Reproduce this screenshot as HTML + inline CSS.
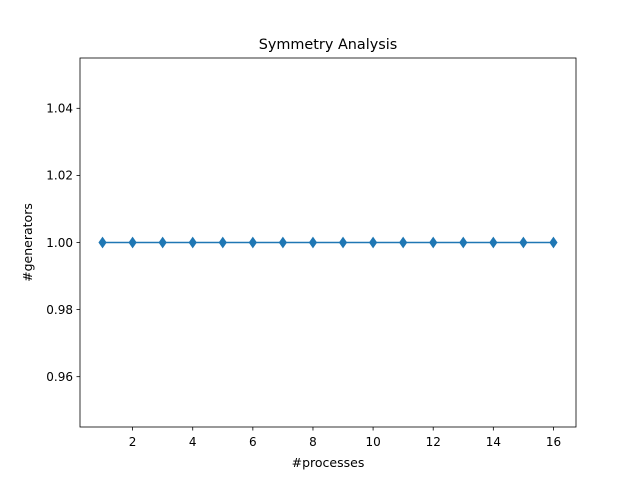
<!DOCTYPE html>
<html><head><meta charset="utf-8"><style>body{margin:0;background:#fff}svg{display:block}text{font-family:"DejaVu Sans","Liberation Sans",sans-serif;fill:#000}</style></head>
<body>
<svg id="chart" width="640" height="480" xmlns="http://www.w3.org/2000/svg">
<rect width="640" height="480" fill="#fff"/>
<text x="328" y="49" font-size="14.4" text-anchor="middle">Symmetry Analysis</text>
<text x="328" y="467" font-size="12.5" text-anchor="middle">#processes</text>
<text x="32" y="242.5" font-size="12.5" text-anchor="middle" transform="rotate(-90 32 242.5)">#generators</text>
<g id="ticks"></g>
<g id="series"></g>
<rect x="80" y="58" width="496" height="369" fill="none" stroke="#000" stroke-width="0.8"/>
</svg>
<script>
const processes=[1,2,3,4,5,6,7,8,9,10,11,12,13,14,15,16];
const generators=[1,1,1,1,1,1,1,1,1,1,1,1,1,1,1,1];
const xTicks=[2,4,6,8,10,12,14,16];
const yTicks=[0.96,0.98,1.00,1.02,1.04];
const yTickLabels=["0.96","0.98","1.00","1.02","1.04"];
const X0=80,X1=576,Y0=58,Y1=427,xmin=0.25,xmax=16.75,ymin=0.945,ymax=1.055;
const sx=v=>X0+(v-xmin)/(xmax-xmin)*(X1-X0);
const sy=v=>Y1-(v-ymin)/(ymax-ymin)*(Y1-Y0);
const NS="http://www.w3.org/2000/svg";
const tg=document.getElementById('ticks'),sg=document.getElementById('series');
function mk(tag,attrs,parent){const e=document.createElementNS(NS,tag);for(const k in attrs)e.setAttribute(k,attrs[k]);parent.appendChild(e);return e;}
xTicks.forEach(t=>{const x=sx(t);
const l=mk('line',{x1:x,x2:x,y1:Y1,y2:Y1+3.5,stroke:'#000','stroke-width':0.8},tg);


const tx=mk('text',{x:x,y:Y1+19,'font-size':12,'text-anchor':'middle'},tg);tx.textContent=t;

});
yTicks.forEach((t,i)=>{const y=sy(t);
const l=mk('line',{x1:X0-3.5,x2:X0,y1:y,y2:y,stroke:'#000','stroke-width':0.8},tg);


const tx=mk('text',{x:X0-7,y:y+4.3,'font-size':12,'text-anchor':'end'},tg);tx.textContent=yTickLabels[i];

});
const pts=processes.map((p,i)=>sx(p)+','+sy(generators[i])).join(' ');
const pl=mk('polyline',{points:pts,fill:'none',stroke:'#1f77b4','stroke-width':1.5},sg);


processes.forEach((p,i)=>{const x=sx(p),y=sy(generators[i]);
const m=mk('polygon',{points:`${x},${y-5} ${x+3.5},${y} ${x},${y+5} ${x-3.5},${y}`,fill:'#1f77b4',stroke:'#1f77b4','stroke-width':1},sg);

});
</script>
</body></html>
